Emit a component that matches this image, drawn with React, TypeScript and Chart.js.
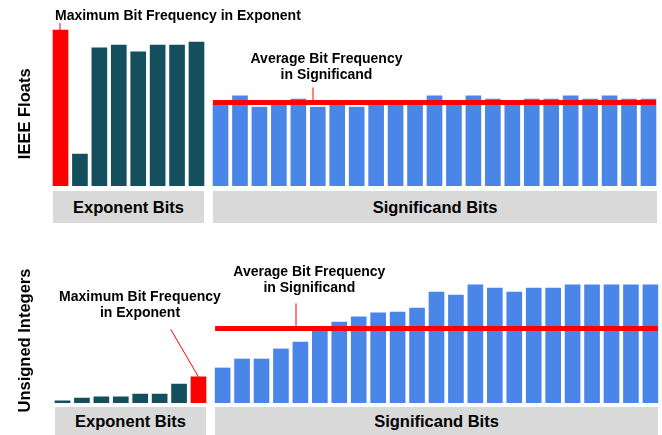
import React, { useEffect, useRef } from "react";
import { Chart, registerables } from "chart.js";

Chart.register(...registerables);

// ---------- data ----------
const exponentBitLabels = ["E1", "E2", "E3", "E4", "E5", "E6", "E7", "E8"];
const significandBitLabels = [
  "S1", "S2", "S3", "S4", "S5", "S6", "S7", "S8", "S9", "S10", "S11", "S12",
  "S13", "S14", "S15", "S16", "S17", "S18", "S19", "S20", "S21", "S22", "S23",
];

// IEEE floats (bit frequency, %)
const floatExponentFreq = [97.5, 20.0, 86.3, 88.1, 83.8, 88.1, 88.1, 90.0];
const floatSignificandFreq = [
  51.9, 56.3, 49.4, 51.9, 54.4, 49.4, 51.9, 49.4, 51.9, 51.9, 51.9, 56.3,
  51.9, 56.3, 54.4, 51.9, 54.4, 54.4, 56.3, 54.4, 56.3, 54.4, 54.4,
];
const floatSignificandAvg = 52.2;

// Unsigned integers (bit frequency, %)
const intExponentFreq = [1.3, 3.1, 3.8, 3.8, 5.6, 5.6, 11.9, 16.3];
const intSignificandFreq = [
  21.9, 27.5, 27.5, 33.8, 38.1, 46.3, 50.6, 53.8, 56.3, 56.9, 59.4, 69.4,
  67.5, 73.8, 71.9, 69.4, 71.9, 71.9, 73.8, 73.8, 73.8, 73.8, 73.8,
];
const intSignificandAvg = 46.6;

const rowTitles = ["IEEE Floats", "Unsigned Integers"];
const groupLabels = ["Exponent Bits", "Significand Bits"];
const maxLabel = ["Maximum Bit Frequency", "in Exponent"];
const avgLabel = ["Average Bit Frequency", "in Significand"];

// ---------- style ----------
const FONT = "'Liberation Sans', Arial, Helvetica, sans-serif";
const RED = "#ff0000";
const TEAL = "#134f5c";
const BLUE = "#4a86e8";
const GRAY = "#d9d9d9";
const Y_MAX = 100;

type Box = { left: number; top: number; width: number; height: number };
type Area = { left: number; right: number; top: number; bottom: number };
type DrawFn = (chart: any, ctx: CanvasRenderingContext2D, box: Box) => void;

function maxIndex(vals: number[]) {
  return vals.indexOf(Math.max(...vals));
}

function text(ctx: CanvasRenderingContext2D, s: string, x: number, y: number, align: CanvasTextAlign, size = 14) {
  ctx.font = `bold ${size}px ${FONT}`;
  ctx.fillStyle = "#000";
  ctx.textAlign = align;
  ctx.textBaseline = "alphabetic";
  ctx.fillText(s, x, y);
}

function pointer(ctx: CanvasRenderingContext2D, x1: number, y1: number, x2: number, y2: number) {
  ctx.strokeStyle = RED;
  ctx.lineWidth = 1;
  ctx.beginPath();
  ctx.moveTo(x1, y1);
  ctx.lineTo(x2, y2);
  ctx.stroke();
}

function rotatedTitle(ctx: CanvasRenderingContext2D, s: string, x: number, y: number) {
  ctx.save();
  ctx.translate(x, y);
  ctx.rotate(-Math.PI / 2);
  text(ctx, s, 0, 0, "center", 16.5);
  ctx.restore();
}

function avgLine(chart: any, ctx: CanvasRenderingContext2D, box: Box, avg: number) {
  const meta = chart.getDatasetMeta(0);
  const first = meta.data[0];
  const last = meta.data[meta.data.length - 1];
  const y = chart.scales.y.getPixelForValue(avg) + box.top;
  ctx.strokeStyle = RED;
  ctx.lineWidth = 5;
  ctx.beginPath();
  ctx.moveTo(first.x - first.width / 2 + box.left, y);
  ctx.lineTo(last.x + last.width / 2 + box.left, y);
  ctx.stroke();
  return y;
}

function BarPanel(props: {
  labels: string[];
  values: number[];
  colors: string[];
  box: Box;
  area: Area;
  draw: DrawFn;
}) {
  const ref = useRef<HTMLCanvasElement>(null);
  useEffect(() => {
    const { labels, values, colors, box, area, draw } = props;
    const canvas = ref.current!;
    const chart = new Chart(canvas, {
      type: "bar",
      data: {
        labels,
        datasets: [
          {
            data: values,
            backgroundColor: colors,
            borderWidth: 0,
            barThickness: 15,
          },
        ],
      },
      options: {
        responsive: false,
        animation: false,
        devicePixelRatio: 1,
        events: [],
        layout: {
          padding: {
            left: area.left - box.left,
            right: box.left + box.width - area.right,
            top: area.top - box.top,
            bottom: box.top + box.height - area.bottom,
          },
        },
        plugins: {
          legend: { display: false },
          tooltip: { enabled: false },
          title: { display: false },
        },
        scales: {
          x: { display: false, offset: true },
          y: { display: false, min: 0, max: Y_MAX },
        },
      },
      plugins: [
        {
          id: "annotations",
          afterDatasetsDraw(c: any) {
            const ctx = c.ctx as CanvasRenderingContext2D;
            ctx.save();
            ctx.translate(-box.left, -box.top);
            draw(c, ctx, box);
            ctx.restore();
          },
        },
      ],
    });
    return () => chart.destroy();
  }, []);
  const { box } = props;
  return (
    <canvas
      ref={ref}
      width={box.width}
      height={box.height}
      style={{ position: "absolute", left: box.left, top: box.top, width: box.width, height: box.height }}
    />
  );
}

function GroupBox({ left, top, width, height, label }: Box & { label: string }) {
  return (
    <div
      style={{
        position: "absolute",
        left,
        top,
        width,
        height,
        background: GRAY,
        display: "flex",
        alignItems: "center",
        justifyContent: "center",
        font: `bold 16.5px ${FONT}`,
        color: "#000",
      }}
    >
      {label}
    </div>
  );
}

export default function App() {
  const fExpMax = maxIndex(floatExponentFreq);
  const iExpMax = maxIndex(intExponentFreq);
  const fExpColors = floatExponentFreq.map((_, i) => (i === fExpMax ? RED : TEAL));
  const iExpColors = intExponentFreq.map((_, i) => (i === iExpMax ? RED : TEAL));
  const blue = significandBitLabels.map(() => BLUE);

  const drawFloatExp: DrawFn = (chart, ctx, box) => {
    const b = chart.getDatasetMeta(0).data[fExpMax];
    const bx = Math.floor(b.x + box.left);
    const by = b.y + box.top;
    pointer(ctx, bx, by - 7, bx, by);
    text(ctx, `${maxLabel[0]} ${maxLabel[1]}`, 55, 19.5, "left");
    rotatedTitle(ctx, rowTitles[0], 29.5, 113.8);
  };
  const drawFloatSig: DrawFn = (chart, ctx, box) => {
    const y = avgLine(chart, ctx, box, floatSignificandAvg);
    pointer(ctx, 313, y - 15, 313, y - 2.5);
    text(ctx, avgLabel[0], 326.5, y - 39.2, "center");
    text(ctx, avgLabel[1], 326.5, y - 23.2, "center");
  };
  const drawIntExp: DrawFn = (chart, ctx, box) => {
    const b = chart.getDatasetMeta(0).data[iExpMax];
    const bx = b.x + box.left;
    const by = b.y + box.top;
    pointer(ctx, 170.7, 329.3, bx, by);
    text(ctx, maxLabel[0], 140, 300.7, "center");
    text(ctx, maxLabel[1], 140, 316.7, "center");
    rotatedTitle(ctx, rowTitles[1], 30, 340.5);
  };
  const drawIntSig: DrawFn = (chart, ctx, box) => {
    const y = avgLine(chart, ctx, box, intSignificandAvg);
    pointer(ctx, 296, y - 25.2, 296, y - 2.5);
    text(ctx, avgLabel[0], 309.3, y - 52.8, "center");
    text(ctx, avgLabel[1], 309.3, y - 36.8, "center");
  };

  return (
    <div
      style={{
        position: "fixed",
        left: 0,
        top: 0,
        width: 662,
        height: 435,
        background: "#fff",
        overflow: "hidden",
      }}
    >
      <GroupBox left={53} top={191} width={151} height={32} label={groupLabels[0]} />
      <GroupBox left={213} top={191} width={444} height={32} label={groupLabels[1]} />
      <GroupBox left={55} top={407} width={151} height={28} label={groupLabels[0]} />
      <GroupBox left={215} top={407} width={443} height={28} label={groupLabels[1]} />

      <BarPanel
        labels={exponentBitLabels}
        values={floatExponentFreq}
        colors={fExpColors}
        box={{ left: 0, top: 0, width: 330, height: 190 }}
        area={{ left: 50.8, right: 206.2, top: 26, bottom: 186 }}
        draw={drawFloatExp}
      />
      <BarPanel
        labels={significandBitLabels}
        values={floatSignificandFreq}
        colors={blue}
        box={{ left: 205, top: 0, width: 457, height: 190 }}
        area={{ left: 210.8, right: 658.2, top: 26, bottom: 186 }}
        draw={drawFloatSig}
      />
      <BarPanel
        labels={exponentBitLabels}
        values={intExponentFreq}
        colors={iExpColors}
        box={{ left: 0, top: 230, width: 330, height: 205 }}
        area={{ left: 52.8, right: 208.2, top: 243, bottom: 403 }}
        draw={drawIntExp}
      />
      <BarPanel
        labels={significandBitLabels}
        values={intSignificandFreq}
        colors={blue}
        box={{ left: 205, top: 230, width: 457, height: 180 }}
        area={{ left: 212.9, right: 660.1, top: 243, bottom: 403 }}
        draw={drawIntSig}
      />
    </div>
  );
}
